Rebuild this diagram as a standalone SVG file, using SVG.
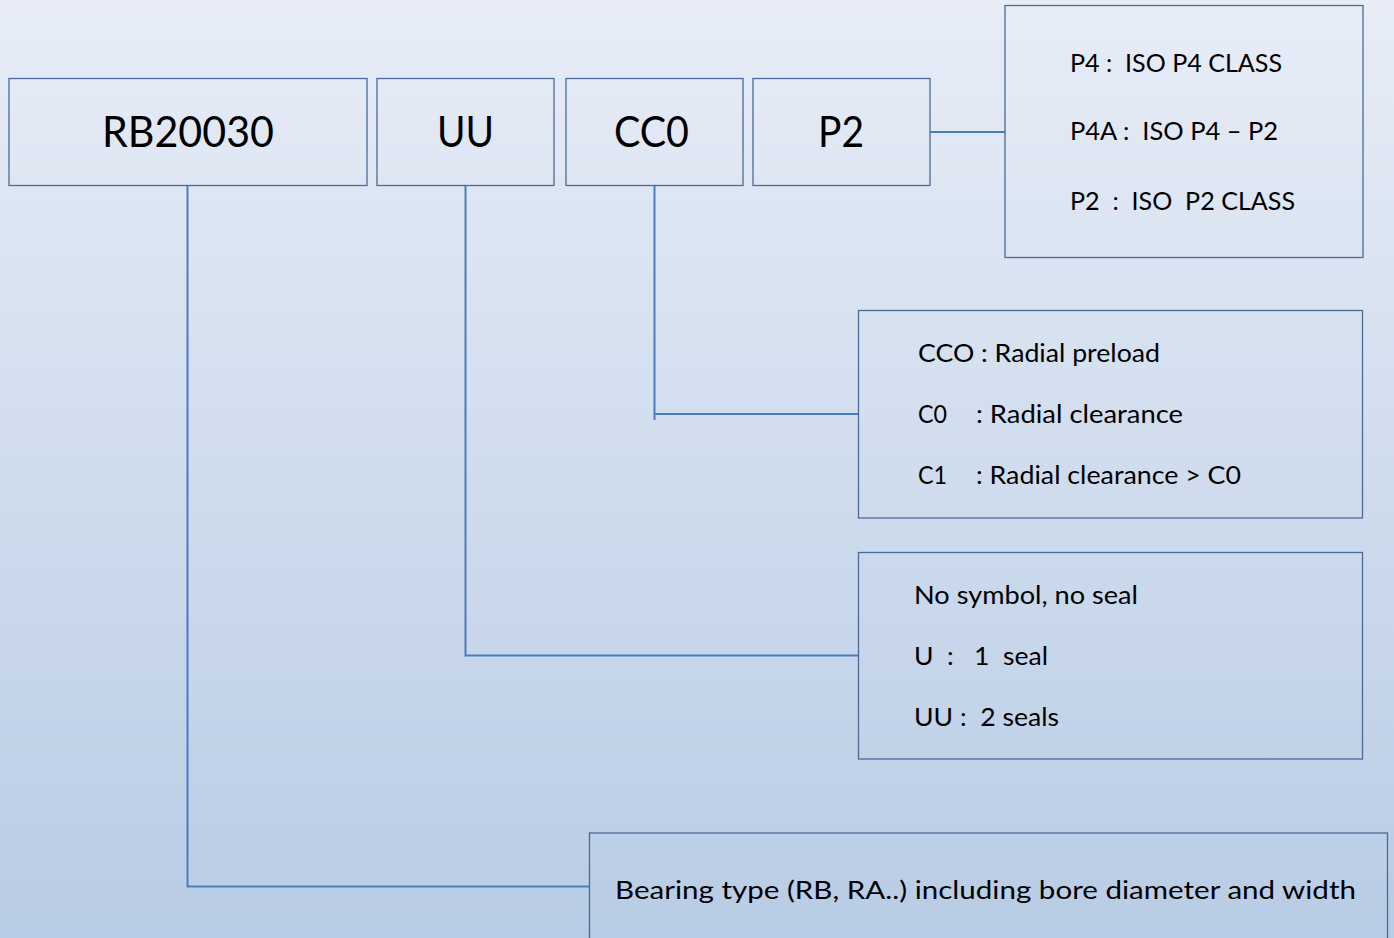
<svg xmlns="http://www.w3.org/2000/svg" width="1394" height="938" viewBox="0 0 1394 938">
<defs>
<linearGradient id="bg" x1="0" y1="0" x2="0" y2="1">
<stop offset="0" stop-color="#e8edf7"/>
<stop offset="1" stop-color="#b8cce5"/>
</linearGradient>
</defs>
<style>
.box{fill:none;stroke:#4a6a98;stroke-width:1.3}
.conn{fill:none;stroke:#4b7cbd;stroke-width:2}
.big{font-family:Lato,"Open Sans",sans-serif;font-size:43px;fill:#000}
.t{font-family:Lato,"Open Sans",sans-serif;font-size:24.5px;fill:#000;white-space:pre}
</style>
<rect width="1394" height="938" fill="url(#bg)"/>
<g id="connectors">
<path class="conn" d="M930 132H1005"/>
<path class="conn" d="M654.5 186V420M654.5 414H858"/>
<path class="conn" d="M465.5 186V655.5H858"/>
<path class="conn" d="M187.5 186V886.5H590"/>
</g>
<g id="n-rb20030">
<rect class="box" x="9" y="78.5" width="358" height="107"/>
<text class="big" x="102" y="147" textLength="172" lengthAdjust="spacingAndGlyphs">RB20030</text>
</g>
<g id="n-uu">
<rect class="box" x="377" y="78.5" width="177" height="107"/>
<text class="big" x="437" y="147" textLength="57" lengthAdjust="spacingAndGlyphs">UU</text>
</g>
<g id="n-cc0">
<rect class="box" x="566" y="78.5" width="177" height="107"/>
<text class="big" x="614" y="147" textLength="75" lengthAdjust="spacingAndGlyphs">CC0</text>
</g>
<g id="n-p2">
<rect class="box" x="753" y="78.5" width="177" height="107"/>
<text class="big" x="818" y="147" textLength="46" lengthAdjust="spacingAndGlyphs">P2</text>
</g>
<g id="n-precision">
<rect class="box" x="1005" y="5.5" width="358" height="252"/>
<text class="t" x="1070" y="72" textLength="212" lengthAdjust="spacingAndGlyphs">P4 :  ISO P4 CLASS</text>
<text class="t" x="1070" y="140" textLength="208" lengthAdjust="spacingAndGlyphs">P4A :  ISO P4 – P2</text>
<text class="t" x="1070" y="210" textLength="225" lengthAdjust="spacingAndGlyphs">P2  :  ISO  P2 CLASS</text>
</g>
<g id="n-clearance">
<rect class="box" x="858.5" y="310.5" width="504" height="207.5"/>
<text class="t" x="918" y="362" textLength="242" lengthAdjust="spacingAndGlyphs">CCO : Radial preload</text>
<text class="t" x="918" y="423" textLength="29" lengthAdjust="spacingAndGlyphs">C0</text>
<text class="t" x="976" y="423" textLength="207" lengthAdjust="spacingAndGlyphs">: Radial clearance</text>
<text class="t" x="918" y="484" textLength="29" lengthAdjust="spacingAndGlyphs">C1</text>
<text class="t" x="976" y="484" textLength="265" lengthAdjust="spacingAndGlyphs">: Radial clearance &gt; C0</text>
</g>
<g id="n-seal">
<rect class="box" x="858.5" y="552.5" width="504" height="206.5"/>
<text class="t" x="914" y="604" textLength="224" lengthAdjust="spacingAndGlyphs">No symbol, no seal</text>
<text class="t" x="914" y="665" textLength="134" lengthAdjust="spacingAndGlyphs">U  :   1  seal</text>
<text class="t" x="914" y="726" textLength="145" lengthAdjust="spacingAndGlyphs">UU :  2 seals</text>
</g>
<g id="n-type">
<rect class="box" x="589.5" y="833" width="798" height="120"/>
<text class="t" x="615" y="899" textLength="741" lengthAdjust="spacingAndGlyphs">Bearing type (RB, RA..) including bore diameter and width</text>
</g>
</svg>
